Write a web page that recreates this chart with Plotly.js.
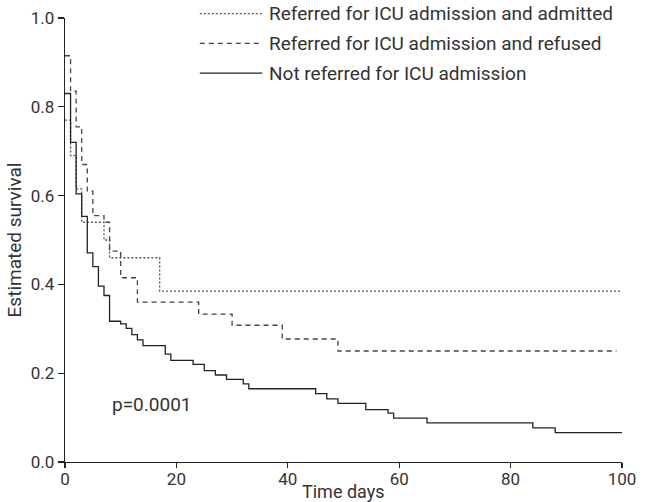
<!DOCTYPE html>
<html>
<head>
<meta charset="utf-8">
<script src="https://cdn.plot.ly/plotly-3.0.1.min.js"></script>
<style>html,body{margin:0;padding:0;background:#fff;}#chart{width:656px;height:502px;}</style>
</head>
<body>
<div id="chart"></div>
<script>
// Kaplan-Meier step data (time in days, estimated survival)
const admittedTime = [0, 1, 2, 3, 7, 8, 17, 100];
const admittedSurv = [0.77, 0.69, 0.615, 0.54, 0.50, 0.46, 0.385, 0.385];

const refusedTime = [0, 1, 2, 3, 4, 5, 7, 8, 10, 13, 24, 30, 39, 49, 99];
const refusedSurv = [0.915, 0.835, 0.755, 0.67, 0.61, 0.555, 0.54, 0.475, 0.415, 0.36, 0.333, 0.308, 0.277, 0.25, 0.25];

const notReferredTime = [0, 1, 2, 3, 4, 5, 6, 7, 8, 10, 11, 12, 13, 14, 18, 19, 23, 25, 27, 29, 32, 33, 45, 47, 49, 54, 58, 59, 65, 84, 88, 100];
const notReferredSurv = [0.83, 0.72, 0.604, 0.553, 0.471, 0.44, 0.396, 0.375, 0.317, 0.311, 0.301, 0.287, 0.275, 0.262, 0.243, 0.229, 0.22, 0.206, 0.196, 0.186, 0.176, 0.165, 0.154, 0.142, 0.132, 0.118, 0.110, 0.099, 0.088, 0.077, 0.066, 0.066];

const xTicks = [0, 20, 40, 60, 80, 100];
const yTicks = [0, 0.2, 0.4, 0.6, 0.8, 1.0];
const yTickText = ['0.0', '0.2', '0.4', '0.6', '0.8', '1.0'];
const legendNames = ['Referred for ICU admission and admitted', 'Referred for ICU admission and refused', 'Not referred for ICU admission'];
const pText = 'p=0.0001';
const xTitle = 'Time days';
const yTitle = 'Estimated survival';

const FONT = 'Roboto, "DejaVu Sans Condensed", sans-serif';
const TXT = '#333';

const traces = [
  {x: admittedTime, y: admittedSurv, mode: 'lines', line: {shape: 'hv', color: '#555', width: 1.3, dash: '2px,2px'}, name: legendNames[0], showlegend: false},
  {x: refusedTime, y: refusedSurv, mode: 'lines', line: {shape: 'hv', color: '#444', width: 1.3, dash: '5px,4px'}, name: legendNames[1], showlegend: false},
  {x: notReferredTime, y: notReferredSurv, mode: 'lines', line: {shape: 'hv', color: '#222', width: 1.3}, name: legendNames[2], showlegend: false}
];

const legDash = ['2px,2px', '5px,4px', 'solid'];
const legColor = ['#555', '#444', '#222'];
const legY = [1.01, 0.943, 0.876];
const shapes = [];
const annotations = [];
for (let i = 0; i < 3; i++) {
  shapes.push({type: 'line', xref: 'paper', yref: 'paper', x0: 0.242, x1: 0.354, y0: legY[i], y1: legY[i], line: {color: legColor[i], width: 1.3, dash: legDash[i]}});
  annotations.push({xref: 'paper', yref: 'paper', x: 0.362, y: legY[i], xanchor: 'left', yanchor: 'middle', text: legendNames[i], showarrow: false, font: {family: FONT, size: 19, color: TXT}});
}
annotations.push({xref: 'x', yref: 'y', x: 8, y: 0.13, xanchor: 'left', yanchor: 'middle', text: pText, showarrow: false, font: {family: FONT, size: 19, color: TXT}});
annotations.push({xref: 'paper', yref: 'paper', x: 0.5, y: -0.066, xanchor: 'center', yanchor: 'middle', text: xTitle, showarrow: false, font: {family: FONT, size: 18, color: TXT}});

const layout = {
  width: 656, height: 502,
  margin: {l: 65, r: 34, t: 18, b: 40},
  paper_bgcolor: '#fff', plot_bgcolor: '#fff',
  font: {family: FONT, size: 17, color: TXT},
  showlegend: false,
  xaxis: {
    range: [0, 100], tickvals: xTicks, ticks: 'outside', ticklen: 5, tickcolor: '#222', tickwidth: 1.2,
    showline: true, linecolor: '#222', linewidth: 1.2, showgrid: false, zeroline: false,
    tickfont: {family: FONT, size: 17, color: TXT}, automargin: false, ticklabelstandoff: -4
  },
  yaxis: {
    range: [0, 1.0], tickvals: yTicks, ticktext: yTickText, ticks: 'outside', ticklen: 6, tickcolor: '#222', tickwidth: 1.2,
    showline: true, linecolor: '#222', linewidth: 1.2, showgrid: false, zeroline: false,
    tickfont: {family: FONT, size: 17, color: TXT}, automargin: false,
    title: {text: yTitle, font: {family: FONT, size: 19, color: TXT}, standoff: 4}
  },
  shapes: shapes,
  annotations: annotations
};

Plotly.newPlot('chart', traces, layout, {displayModeBar: false, staticPlot: true});
</script>
</body>
</html>
